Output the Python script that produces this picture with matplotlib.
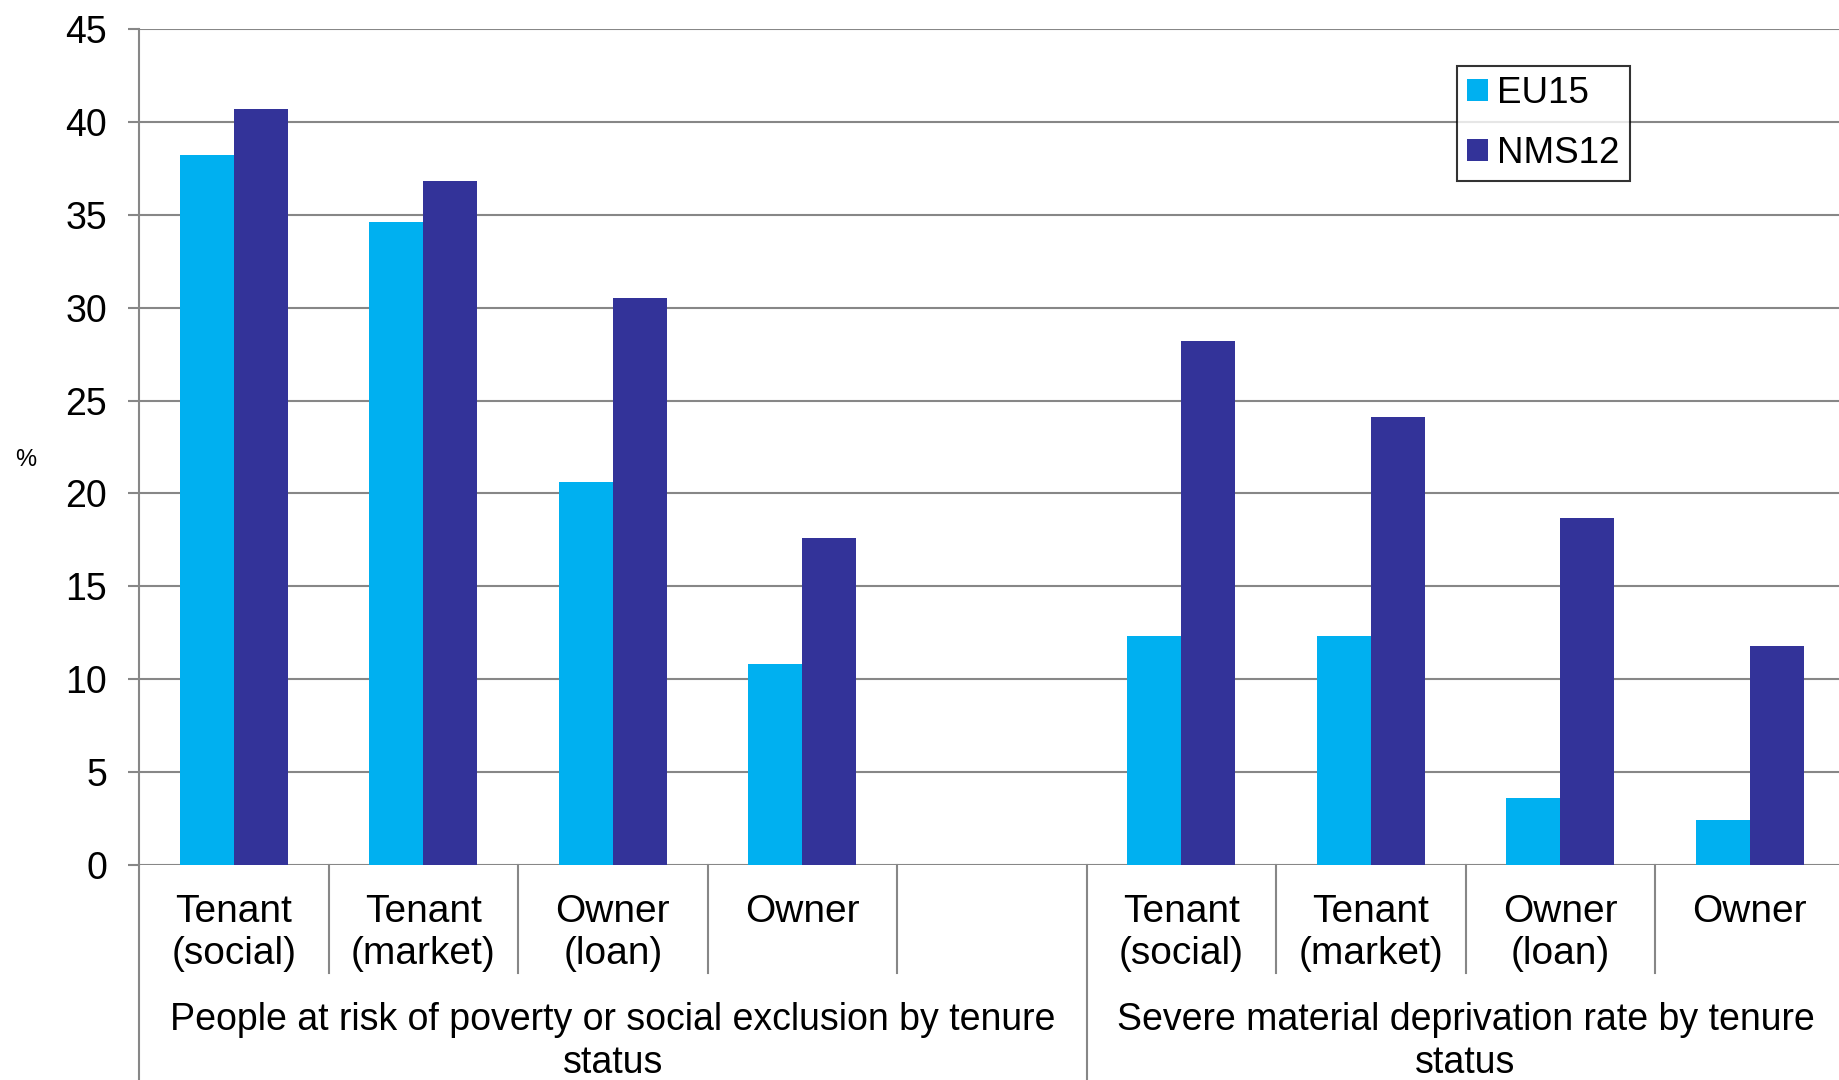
import numpy as np
import matplotlib
from matplotlib import pyplot as plt
from matplotlib.patches import Patch
import matplotlib.transforms as mtransforms

matplotlib.rcParams['font.family'] = ['Liberation Sans', 'DejaVu Sans']

# values by tenure status, two indicators with a blank slot between them
categories = ['Tenant\n(social)', 'Tenant\n(market)', 'Owner\n(loan)', 'Owner']
groups = ['People at risk of poverty or social exclusion by tenure\nstatus',
          'Severe material deprivation rate by tenure\nstatus']
eu15 = [38.2, 34.6, 20.6, 10.8, 12.3, 12.3, 3.6, 2.4]
nms12 = [40.7, 36.8, 30.5, 17.6, 28.2, 24.1, 18.7, 11.8]
series_names = ['EU15', 'NMS12']
colors = ['#00B0F0', '#333399']
grid_c = '#878787'

W, H = 1839, 1080
fig = plt.figure(figsize=(W / 100, H / 100), dpi=100)
left, top, bottom = 139, 29, 865
ax = fig.add_axes([left / W, 1 - bottom / H, (W - left) / W, (bottom - top) / H])

slot = 189.5  # px per category slot
x = np.array([0, 1, 2, 3, 5, 6, 7, 8])
bw = 0.285
ax.bar(x - bw / 2, eu15, bw, color=colors[0], zorder=3)
ax.bar(x + bw / 2, nms12, bw, color=colors[1], zorder=3)

ax.set_xlim(-0.5, -0.5 + (W - left) / slot)
ax.set_ylim(0, 45)
ax.set_yticks(range(0, 46, 5))
ax.tick_params(axis='y', labelsize=27, length=8, width=1.5, color=grid_c, pad=15)
ax.tick_params(axis='x', bottom=False, labelbottom=False)
ax.yaxis.grid(True, color=grid_c, linewidth=1.5, zorder=0)
for s in ['top', 'right', 'bottom']:
    ax.spines[s].set_visible(False)
ax.spines['left'].set_color(grid_c)
ax.spines['left'].set_linewidth(1.5)
ax.set_axisbelow(True)

fig.text(26 / W, 1 - 460 / H, '%', fontsize=17, ha='center', va='center')

# category axis drawn under the plot
trans = mtransforms.blended_transform_factory(ax.transData, ax.transAxes)
ph = bottom - top
short_end = -(973 - bottom) / ph
long_end = -(H - bottom) / ph
for xs in [0.5, 1.5, 2.5, 3.5, 5.5, 6.5, 7.5, 8.5]:
    ax.plot([xs, xs], [0, short_end], transform=trans, color=grid_c, lw=1.5, clip_on=False)
for xs in [-0.5, 4.5]:
    ax.plot([xs, xs], [0, long_end], transform=trans, color=grid_c, lw=1.5, clip_on=False)

cat_y = -(894 - bottom) / ph
for i, xi in enumerate(x):
    ax.text(xi, cat_y, categories[i % 4], transform=trans, ha='center', va='top',
            fontsize=28, linespacing=1.22, clip_on=False)

grp_y = -(1002 - bottom) / ph
ax.text(2.0, grp_y, groups[0], transform=trans, ha='center', va='top',
        fontsize=27, linespacing=1.25, clip_on=False)
ax.text(6.5, grp_y, groups[1], transform=trans, ha='center', va='top',
        fontsize=27, linespacing=1.25, clip_on=False)

handles = [Patch(facecolor=c) for c in colors]
leg = fig.legend(handles, series_names, loc='upper left',
                 bbox_to_anchor=(1457 / W, 1 - 66 / H), fontsize=26.5,
                 frameon=True, fancybox=False, edgecolor='black',
                 handlelength=0.57, handleheight=0.57, handletextpad=0.25,
                 labelspacing=0.68, borderpad=0.27, borderaxespad=0)
leg.get_frame().set_linewidth(1.5)

fig.savefig('out.png', dpi=100)
